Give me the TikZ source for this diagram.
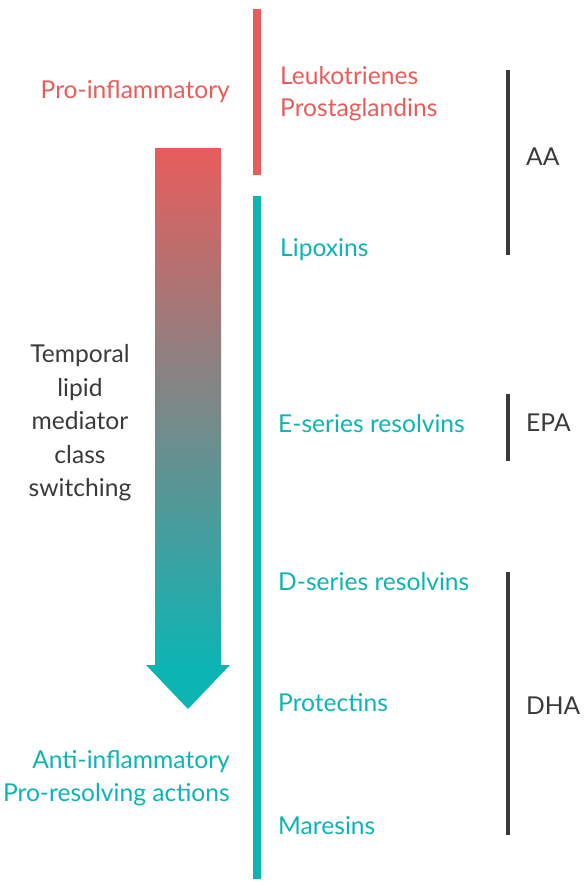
\documentclass[tikz,border=0pt]{standalone}
\usepackage{fontspec}
\setmainfont{Lato}
\usetikzlibrary{positioning, calc}
\definecolor{medRed}{HTML}{E85C5C}
\definecolor{medTeal}{HTML}{0DB4B4}
\definecolor{medInk}{HTML}{3A3A3A}
\definecolor{medMid}{HTML}{A09585}
\tikzset{
  lbl/.style={inner sep=0pt, font=\fontsize{24.6}{33.5}\selectfont},
}
\newcommand{\acidbar}[5]{%
  \coordinate (#1top) at (508,#2);
  \coordinate (#1bot) at (508,#3);
  \draw[medInk, line width=4pt] (#1top) -- (#1bot);
  \node[lbl, text=medInk, anchor=base west] (#1) at (526,#4) {#5};
}

\begin{document}
\begin{tikzpicture}[x=1pt, y=-1pt]
    \useasboundingbox (0,0) rectangle (586,886);
    % timeline bars
    \coordinate (protop) at (257,9);
    \coordinate (probot) at (257,175);
    \coordinate (restop) at (257,196);
    \coordinate (resbot) at (257,879);
    \draw[medRed, line width=8pt] (protop) -- (probot);
    \draw[medTeal, line width=8pt] (restop) -- (resbot);
    % class switching arrow
    \shade[top color=medRed, middle color=medMid, bottom color=medTeal]
        (155,148) rectangle (221,666);
    \fill[medTeal] (146,665) -- (230,665) -- (188,709) -- cycle;
    % left labels
    \node[lbl, text=medRed, anchor=base east] (proinf) at (230,98) {Pro-inflammatory};
    \node[lbl, text=medInk, align=center] (switch) at (80,423)
        {Temporal\\lipid\\mediator\\class\\switching};
    \node[lbl, text=medTeal, anchor=base east] (antiinf) at (230,768) {Anti-inflammatory};
    \node[lbl, text=medTeal, anchor=base east] (prores) at (230,801) {Pro-resolving actions};
    % mediators
    \node[lbl, text=medRed, anchor=base west] (leuko) at (280,84) {Leukotrienes};
    \node[lbl, text=medRed, anchor=base west] (prosta) at (280,116) {Prostaglandins};
    \node[lbl, text=medTeal, anchor=base west] (lipox) at (280,256) {Lipoxins};
    \node[lbl, text=medTeal, anchor=base west] (eres) at (278,432) {E-series resolvins};
    \node[lbl, text=medTeal, anchor=base west] (dres) at (278,590) {D-series resolvins};
    \node[lbl, text=medTeal, anchor=base west] (protect) at (278,711) {Protectins};
    \node[lbl, text=medTeal, anchor=base west] (mares) at (278,834) {Maresins};
    % precursor acids
    \acidbar{aa}{70}{255}{165}{AA}
    \acidbar{epa}{394}{461}{431}{EPA}
    \acidbar{dha}{572}{835}{714}{DHA}
\end{tikzpicture}
\end{document}
